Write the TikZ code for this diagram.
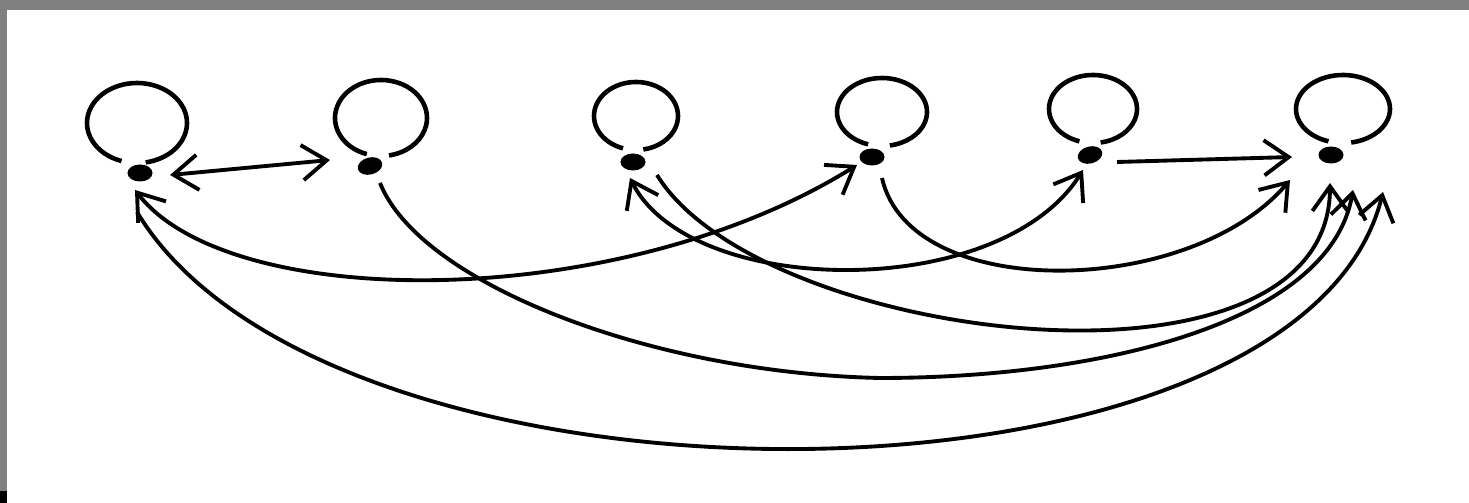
\documentclass[tikz,border=0pt]{standalone}
\usetikzlibrary{arrows.meta,shapes.geometric}
\tikzset{
  dot/.style={ellipse, fill, inner sep=0pt, minimum width=0.25cm, minimum height=0.17cm},
  link/.style={line width=1.1pt},
  selfloop/.style={line width=1.3pt},
}
\begin{document}
\begin{tikzpicture}[x=0.01cm, y=0.01cm, >={Straight Barb[length=7pt,width=10pt]}]
  \fill[gray] (0,0) rectangle (1469,503);
  \fill[white] (7,0) rectangle (1469,493);
  \fill[black] (0,0) rectangle (7,12);
  \useasboundingbox (0,0) rectangle (1469,503);

  \node at (140,330) [dot] (A) {};
  \node at (370,337) [dot, rotate=15] (B) {};
  \node at (633,341) [dot] (C) {};
  \node at (872,346) [dot] (D) {};
  \node at (1090,348) [dot, rotate=15] (E) {};
  \node at (1331,348) [dot] (F) {};

  \foreach \n/\dx/\dy/\rx/\ry in {A/-3/50/50/40, B/11/48/46/38, C/3/46/42/34,
                                  D/10/45/45/34, E/3/46/44/34, F/12/46/47/34}
    \draw[selfloop] (\n.center) ++(\dx,\dy) ++({\rx*cos(252)},{\ry*sin(252)})
      arc[start angle=252, end angle=-80, x radius=\rx, y radius=\ry];

  \draw[link, <->] ([shift={(30,-2)}]A.center) -- ([shift={(-40,6)}]B.center);
  \draw[link, ->] ([shift={(27,-7)}]E.center) -- ([shift={(-39,-2)}]F.center);

  \draw[link, <->] ([shift={(-5,-17)}]A.center) .. controls (230,190) and (620,190) .. ([shift={(-15,-8)}]D.center);
  \draw[link, ->] ([shift={(-3,-39)}]A.center) .. controls (330,-30) and (1300,-25) .. ([shift={(52,-37)}]F.center);
  \draw[link, ->] ([shift={(10,-17)}]B.center) .. controls (420,220) and (650,130) .. (880,125)
    .. controls (1100,125) and (1330,180) .. ([shift={(22,-35)}]F.center);
  \draw[link, <->] ([shift={(-3,-16)}]C.center) .. controls (690,205) and (1000,200) .. ([shift={(-7,-15)}]E.center);
  \draw[link, ->] ([shift={(24,-13)}]C.center) .. controls (760,160) and (1330,90) .. ([shift={(-1,-28)}]F.center);
  \draw[link, ->] ([shift={(10,-21)}]D.center) .. controls (910,200) and (1190,205) .. ([shift={(-41,-25)}]F.center);
\end{tikzpicture}
\end{document}
